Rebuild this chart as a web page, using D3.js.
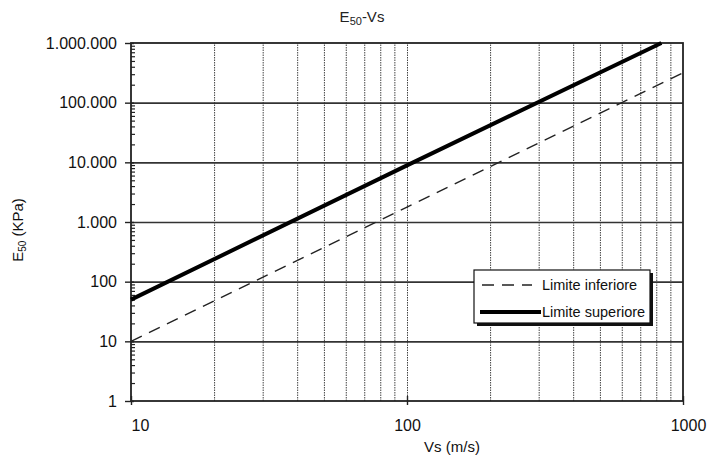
<!DOCTYPE html>
<html>
<head>
<meta charset="utf-8">
<script src="https://cdn.jsdelivr.net/npm/d3@7"></script>
<style>
  html, body { margin: 0; padding: 0; background: #fff; }
  svg { display: block; font-family: "Liberation Sans", Arial, sans-serif; }
</style>
</head>
<body>
<svg id="chart" width="709" height="464"></svg>
<script>
// Shear-wave velocity (m/s) vs secant modulus E50 (kPa), log-log
const vsLower = [10, 100, 1000];
const eLower = [10, 1780, 316000];
const vsUpper = [10, 100, 835];
const eUpper = [50, 8900, 1000000];

const xTickValues = [10, 100, 1000];
const xTickLabels = ["10", "100", "1000"];
const yTickValues = [1, 10, 100, 1000, 10000, 100000, 1000000];
const yTickLabels = ["1", "10", "100", "1.000", "10.000", "100.000", "1.000.000"];
const seriesNames = ["Limite inferiore", "Limite superiore"];

const svg = d3.select("#chart");
const margin = { left: 131, right: 26, top: 43, bottom: 63 };
const W = 709, H = 464;
const iw = W - margin.left - margin.right;
const ih = H - margin.top - margin.bottom;

const x = d3.scaleLog().domain([10, 1000]).range([0, iw]);
const y = d3.scaleLog().domain([1, 1000000]).range([ih, 0]);

const g = svg.append("g").attr("transform", `translate(${margin.left},${margin.top})`);

// minor positions 2..9 within each decade
function minors(lo, hi) {
  const out = [];
  for (let d = lo; d < hi; d *= 10) for (let k = 2; k <= 9; k++) out.push(d * k);
  return out;
}
const xMinor = minors(10, 1000);
const yMinor = minors(1, 1000000);

// vertical dotted grid
const vGrid = g.append("g").attr("transform", `translate(0,${ih})`)
  .call(d3.axisBottom(x).tickValues(xMinor.concat([100])).tickSize(-ih).tickFormat(""));
vGrid.select(".domain").remove();
vGrid.selectAll("line").attr("stroke", "#444").attr("stroke-width", 1).attr("stroke-dasharray", "1.5,1");

// horizontal solid grid at decades
const hGrid = g.append("g")
  .call(d3.axisLeft(y).tickValues(yTickValues.slice(1, -1)).tickSize(-iw).tickFormat(""));
hGrid.select(".domain").remove();
hGrid.selectAll("line").attr("stroke", "#333").attr("stroke-width", 1.6);

// frame
g.append("rect").attr("x", 0).attr("y", 0).attr("width", iw).attr("height", ih)
  .attr("fill", "none").attr("stroke", "#222").attr("stroke-width", 1.8);

// y axis: major ticks crossing, minor ticks inside
const yMinorAxis = g.append("g").attr("transform", "translate(4,0)")
  .call(d3.axisLeft(y).tickValues(yMinor).tickSize(4).tickFormat(""));
yMinorAxis.select(".domain").remove();
yMinorAxis.selectAll("line").attr("stroke", "#222").attr("stroke-width", 1.2);

const yAxis = g.append("g").attr("transform", "translate(3,0)")
  .call(d3.axisLeft(y).tickValues(yTickValues).tickSize(9).tickPadding(8)
    .tickFormat((d, i) => yTickLabels[i]));
yAxis.select(".domain").remove();
yAxis.selectAll("line").attr("stroke", "#222").attr("stroke-width", 1.4);
yAxis.selectAll("text").attr("font-size", 16).attr("fill", "#111")
  .attr("font-family", "Liberation Sans, Arial, sans-serif");

// x axis: major ticks crossing
const xLabelShift = [9, 0, 5];
const xAxis = g.append("g").attr("transform", `translate(0,${ih + 4})`)
  .call(d3.axisBottom(x).tickValues(xTickValues).tickSize(0).tickPadding(15)
    .tickFormat((d, i) => xTickLabels[i]));
xAxis.select(".domain").remove();
xAxis.selectAll("text").attr("font-size", 16).attr("fill", "#111")
  .attr("dx", (d, i) => xLabelShift[i])
  .attr("font-family", "Liberation Sans, Arial, sans-serif");
const xMajor = g.append("g").attr("transform", `translate(0,${ih + 4})`)
  .call(d3.axisBottom(x).tickValues(xTickValues).tickSize(-9).tickFormat(""));
xMajor.select(".domain").remove();
xMajor.selectAll("line").attr("stroke", "#222").attr("stroke-width", 1.4);

// series
const line = d3.line().x(d => x(d[0])).y(d => y(d[1]));
const plot = g.append("g");
plot.append("path").datum(d3.zip(vsLower, eLower)).attr("d", line)
  .attr("fill", "none").attr("stroke", "#222").attr("stroke-width", 1.4)
  .attr("stroke-dasharray", "12,8");
plot.append("path").datum(d3.zip(vsUpper, eUpper)).attr("d", line)
  .attr("fill", "none").attr("stroke", "#000").attr("stroke-width", 4);

// title
const title = svg.append("text").attr("x", 362).attr("y", 22).attr("text-anchor", "middle")
  .attr("font-size", 15).attr("fill", "#222");
title.append("tspan").text("E");
title.append("tspan").attr("font-size", 11).attr("dy", 3).text("50");
title.append("tspan").attr("dy", -3).text("-Vs");

// axis titles
svg.append("text").attr("x", margin.left + iw / 2 + 45).attr("y", 452).attr("text-anchor", "middle")
  .attr("font-size", 15).attr("fill", "#111").text("Vs (m/s)");

const yt = svg.append("text").attr("transform", "translate(23,230) rotate(-90)")
  .attr("text-anchor", "middle").attr("font-size", 15).attr("fill", "#111");
yt.append("tspan").text("E");
yt.append("tspan").attr("font-size", 10).attr("dy", 3).text("50");
yt.append("tspan").attr("dy", -3).text(" (KPa)");

// legend
const lg = svg.append("g").attr("transform", "translate(474,270)");
lg.append("rect").attr("x", 3).attr("y", 3).attr("width", 176).attr("height", 53).attr("fill", "#111");
lg.append("rect").attr("x", 0).attr("y", 0).attr("width", 176).attr("height", 53)
  .attr("fill", "#fff").attr("stroke", "#111").attr("stroke-width", 1.2);
lg.append("line").attr("x1", 8).attr("x2", 58).attr("y1", 15).attr("y2", 15)
  .attr("stroke", "#222").attr("stroke-width", 1.4).attr("stroke-dasharray", "12,8");
lg.append("line").attr("x1", 6).attr("x2", 67).attr("y1", 42).attr("y2", 42)
  .attr("stroke", "#000").attr("stroke-width", 4);
lg.selectAll("text.lab").data(seriesNames).join("text").attr("class", "lab")
  .attr("x", 68).attr("y", (d, i) => 20 + i * 27).attr("font-size", 14.5).attr("fill", "#111").text(d => d);
</script>
</body>
</html>
